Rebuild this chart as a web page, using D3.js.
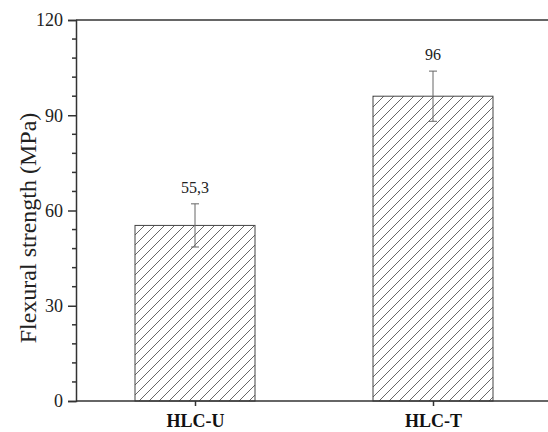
<!DOCTYPE html>
<html>
<head>
<meta charset="utf-8">
<script src="https://cdn.jsdelivr.net/npm/d3@7"></script>
<style>
  body { margin: 0; background: #fff; }
  svg { font-family: "Liberation Serif", "Times New Roman", serif; }
</style>
</head>
<body>
<svg id="chart" width="548" height="432"></svg>
<script>
// data
const categories = ["HLC-U", "HLC-T"];
const values = [55.3, 96];
const errors = [6.8, 7.9];
const valueLabels = ["55,3", "96"];
const yTicks = [0, 30, 60, 90, 120];

const width = 548, height = 432;
const margin = {top: 20, right: 0, bottom: 31, left: 76};

const svg = d3.select("#chart");

const defs = svg.append("defs");
defs.append("pattern")
  .attr("id", "hatch")
  .attr("patternUnits", "userSpaceOnUse")
  .attr("width", 10)
  .attr("height", 10)
  .append("path")
  .attr("d", "M-1,1 l2,-2 M0,10 l10,-10 M9,11 l2,-2")
  .attr("stroke", "#555")
  .attr("stroke-width", 0.9);

// bar centers at 195 / 433
const xc = d3.scalePoint().domain(categories).range([195, 433]);
const barW = 120;

const y = d3.scaleLinear()
  .domain([0, 120])
  .range([height - margin.bottom, margin.top]);

const g = svg.append("g");

// bars
g.selectAll("rect.bar")
  .data(categories)
  .join("rect")
  .attr("class", "bar")
  .attr("x", d => xc(d) - barW / 2)
  .attr("width", barW)
  .attr("y", (d, i) => y(values[i]))
  .attr("height", (d, i) => y(0) - y(values[i]))
  .attr("fill", "url(#hatch)")
  .attr("stroke", "#444")
  .attr("stroke-width", 1);

// error bars
const eb = g.selectAll("g.err")
  .data(categories)
  .join("g")
  .attr("class", "err")
  .attr("stroke", "#666")
  .attr("stroke-width", 1);
eb.append("line")
  .attr("x1", d => xc(d)).attr("x2", d => xc(d))
  .attr("y1", (d, i) => y(values[i] + errors[i]))
  .attr("y2", (d, i) => y(values[i] - errors[i]));
eb.append("line")
  .attr("x1", d => xc(d) - 4).attr("x2", d => xc(d) + 4)
  .attr("y1", (d, i) => y(values[i] + errors[i]))
  .attr("y2", (d, i) => y(values[i] + errors[i]));
eb.append("line")
  .attr("x1", d => xc(d) - 4).attr("x2", d => xc(d) + 4)
  .attr("y1", (d, i) => y(values[i] - errors[i]))
  .attr("y2", (d, i) => y(values[i] - errors[i]));

// value labels
g.selectAll("text.val")
  .data(categories)
  .join("text")
  .attr("class", "val")
  .attr("x", d => xc(d))
  .attr("y", (d, i) => y(values[i] + errors[i]) - 11)
  .attr("text-anchor", "middle")
  .attr("font-size", 16)
  .attr("fill", "#222")
  .text((d, i) => valueLabels[i]);

// y axis
const yAxis = g.append("g")
  .attr("transform", `translate(${margin.left},0)`)
  .call(d3.axisLeft(y).tickValues(yTicks).tickSize(8).tickPadding(5));
yAxis.select(".domain").attr("stroke", "#333").attr("stroke-width", 1.5);
yAxis.selectAll(".tick line").attr("stroke", "#333").attr("stroke-width", 1.5);
yAxis.selectAll(".tick text").attr("font-size", 18).attr("fill", "#222")
  .attr("font-family", "Liberation Serif, serif");

// minor ticks
const minor = d3.range(0, 121, 6).filter(v => !yTicks.includes(v));
g.append("g").selectAll("line")
  .data(minor)
  .join("line")
  .attr("x1", margin.left - 4).attr("x2", margin.left)
  .attr("y1", d => y(d)).attr("y2", d => y(d))
  .attr("stroke", "#333").attr("stroke-width", 1.5);

// top border
g.append("line")
  .attr("x1", margin.left).attr("x2", width)
  .attr("y1", y(120)).attr("y2", y(120))
  .attr("stroke", "#333").attr("stroke-width", 1.5);

// x axis
const xAxis = g.append("g")
  .attr("transform", `translate(0,${y(0)})`)
  .call(d3.axisBottom(xc).tickSize(5).tickPadding(8));
xAxis.select(".domain").remove();
xAxis.append("line")
  .attr("x1", margin.left).attr("x2", width)
  .attr("stroke", "#333").attr("stroke-width", 1.5);
xAxis.selectAll(".tick line").attr("stroke", "#333").attr("stroke-width", 1.5);
xAxis.selectAll(".tick text").attr("font-size", 18).attr("font-weight", "bold")
  .attr("fill", "#111").attr("font-family", "Liberation Serif, serif");

// y title
svg.append("text")
  .attr("transform", "translate(30,228) rotate(-90)")
  .attr("text-anchor", "middle")
  .attr("dominant-baseline", "middle")
  .attr("font-size", 24)
  .attr("fill", "#222")
  .text("Flexural strength (MPa)");
</script>
</body>
</html>
